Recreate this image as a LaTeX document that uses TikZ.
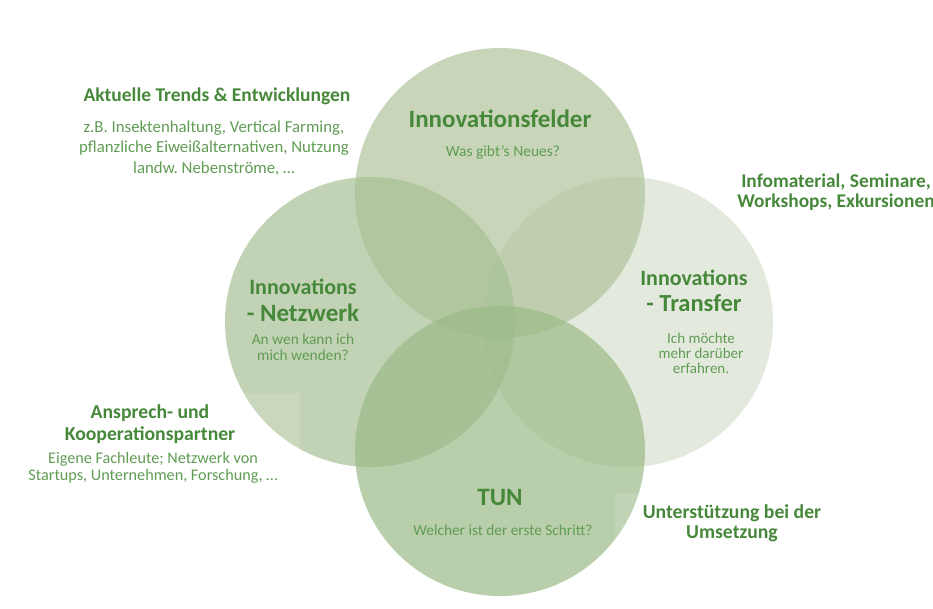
\documentclass[tikz,border=0pt]{standalone}
\usepackage{fontspec}
\setmainfont{Carlito}
\frenchspacing
\lineskiplimit=-100pt
\definecolor{felderfill}{RGB}{176,195,155}
\definecolor{netzfill}{RGB}{168,192,149}
\definecolor{transferfill}{RGB}{215,224,206}
\definecolor{tunfill}{RGB}{155,186,135}
\definecolor{headgreen}{RGB}{70,136,58}
\definecolor{bodygreen}{RGB}{96,156,84}
\tikzset{
    bubble/.style={fill=#1,fill opacity=0.7},
    head/.style 2 args={text=headgreen,font=\fontsize{#1}{#2}\selectfont\bfseries,align=center,inner sep=0pt},
    body/.style 2 args={text=bodygreen,font=\fontsize{#1}{#2}\selectfont,align=center,inner sep=0pt},
    veil/.style={fill=white,fill opacity=0.12},
}
\newcommand{\Bubble}[4]{% name,x,y,colour
    \coordinate (#1) at (#2,#3);
    \fill[bubble=#4] (#1) circle [radius=145pt];
}

\begin{document}
\begin{tikzpicture}[x=1pt,y=-1pt]
    \useasboundingbox (0,0) rectangle (933,608);

    \Bubble{transfer}{628}{322}{transferfill};
    \Bubble{felder}{500}{193}{felderfill};
    \Bubble{netz}{370}{322}{netzfill};
    \Bubble{tun}{500}{451}{tunfill};

    % faint boxes behind the side texts
    \fill[veil] (20,393) rectangle (300,500);
    \fill[veil] (615,493) rectangle (850,557);

    \node[head={25}{28}] (felderT) at (500,119) {Innovationsfelder};
    \node[body={15.5}{18}] (felderQ) at (503,152) {Was gibt’s Neues?};

    \node[head={22}{25}] (netzT) at (303,287) {Innovations};
    \node[head={25}{28}] (netzU) at (303,313) {- Netzwerk};
    \node[body={15.4}{16}] (netzQ) at (303,347) {An wen kann ich\\mich wenden?};

    \node[head={22}{25}] (transferT) at (694,278) {Innovations};
    \node[head={24.5}{28}] (transferU) at (694,303) {- Transfer};
    \node[body={15}{15}] (transferQ) at (701,353) {Ich möchte\\mehr darüber\\erfahren.};

    \node[head={25}{28}] (tunT) at (500,497) {TUN};
    \node[body={15.3}{18}] (tunQ) at (503,530) {Welcher ist der erste Schritt?};

    \node[head={19.5}{22}] (trendsT) at (217,96) {Aktuelle Trends \& Entwicklungen};
    \node[body={16.8}{20.5}] (trendsB) at (214,148) {z.B. Insektenhaltung, Vertical Farming,\\pflanzliche Eiweißalternativen, Nutzung\\landw. Nebenströme, \dots};

    \node[head={19.4}{20}] (infoT) at (836,192) {Infomaterial, Seminare,\\Workshops, Exkursionen};

    \node[head={19.7}{22}] (partnerT) at (150,424) {Ansprech- und\\Kooperationspartner};
    \node[body={16.2}{17}] (partnerB) at (153,468) {Eigene Fachleute; Netzwerk von\\Startups, Unternehmen, Forschung, \dots};

    \node[head={19.7}{20}] (umsetzT) at (732,523) {Unterstützung bei der\\Umsetzung};
\end{tikzpicture}
\end{document}
